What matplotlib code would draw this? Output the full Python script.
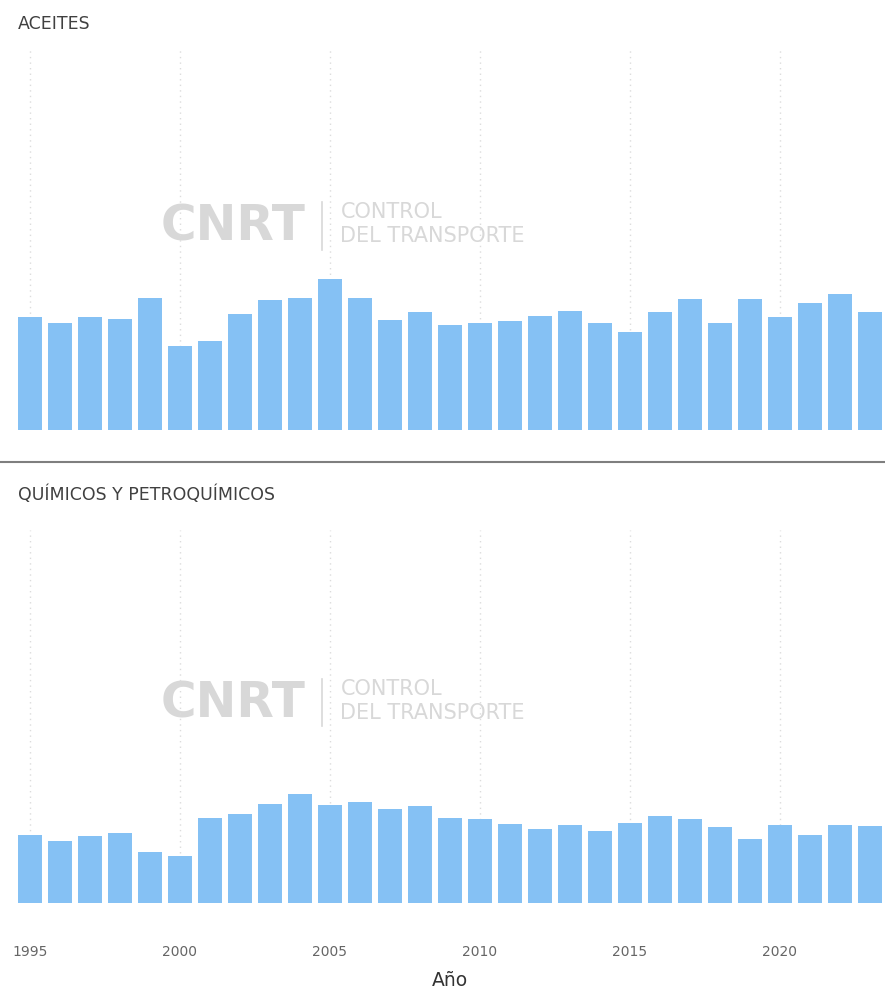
import matplotlib
matplotlib.use("Agg")
import matplotlib.pyplot as plt
from matplotlib.lines import Line2D

# years shown on both panels
years = list(range(1995, 2024))

# bar heights (no y axis in the source, relative units)
aceites = [113, 107, 113, 111, 132, 84, 89, 116, 130, 132,
           151, 132, 110, 118, 105, 107, 109, 114, 119, 107,
           98, 118, 131, 107, 131, 113, 127, 136, 118]
quimicos = [68, 62, 67, 70, 51, 47, 85, 89, 99, 109,
            98, 101, 94, 97, 85, 84, 79, 74, 78, 72,
            80, 87, 84, 76, 64, 78, 68, 78, 77]

panel_titles = ["ACEITES", "QUÍMICOS Y PETROQUÍMICOS"]
tick_years = [1995, 2000, 2005, 2010, 2015, 2020]

W, H = 885, 990
fig = plt.figure(figsize=(W / 100, H / 100), dpi=100)
bar_color = "#85C1F4"

def px(x0, y0, x1, y1):
    # pixel box (top-left origin) -> figure fraction rect
    return [x0 / W, 1 - y1 / H, (x1 - x0) / W, (y1 - y0) / H]

def watermark(ax):
    kw = dict(transform=ax.transAxes, color="#d8d8d8", zorder=0)
    ax.text(0.167, 0.535, "CNRT", fontsize=35, fontweight="bold",
            family="DejaVu Sans", va="center", ha="left", **kw)
    ax.plot([0.353, 0.353], [0.475, 0.60], lw=1.2, **kw)
    ax.text(0.374, 0.573, "CONTROL", fontsize=15, family="DejaVu Sans",
            va="center", ha="left", **kw)
    ax.text(0.374, 0.51, "DEL TRANSPORTE", fontsize=15, family="DejaVu Sans",
            va="center", ha="left", **kw)

boxes = [px(15, 50, 885, 430), px(15, 530, 885, 903)]
ylims = [380, 373]
series = [aceites, quimicos]

axes = []
for box, top, vals in zip(boxes, ylims, series):
    ax = fig.add_axes(box)
    ax.bar(years, vals, width=0.8, color=bar_color, zorder=2)
    ax.set_xlim(1994.5, 2023.5)
    ax.set_ylim(0, top)
    for y in tick_years:
        ax.axvline(y, color="#dcdcdc", lw=1, ls=(0, (1, 3)), zorder=1)
    for s in ax.spines.values():
        s.set_visible(False)
    ax.set_yticks([])
    ax.set_xticks(tick_years)
    ax.tick_params(axis="x", length=0)
    watermark(ax)
    axes.append(ax)

axes[0].set_xticklabels([])
axes[1].set_xticklabels([str(y) for y in tick_years], fontsize=10,
                        color="#666666", family="DejaVu Sans")
axes[1].tick_params(axis="x", pad=30)

# panel titles and separator
fig.text(18 / W, 1 - 24 / H, panel_titles[0], fontsize=12.5, color="#404040",
         family="DejaVu Sans", va="center", ha="left")
fig.text(18 / W, 1 - 495 / H, panel_titles[1], fontsize=12.5, color="#404040",
         family="DejaVu Sans", va="center", ha="left")
fig.add_artist(Line2D([0, 1], [1 - 462 / H, 1 - 462 / H], color="#7f7f7f", lw=1.5))

fig.text(450 / W, 1 - 980 / H, "Año", fontsize=13.5, color="#333333",
         family="DejaVu Sans", va="center", ha="center")

fig.savefig("out.png", dpi=100)
